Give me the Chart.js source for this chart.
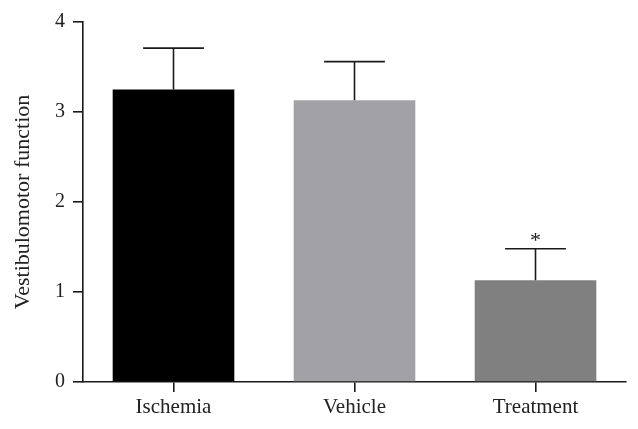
<!DOCTYPE html>
<html><head><meta charset="utf-8">
<script src="https://cdn.jsdelivr.net/npm/chart.js@4.4.1/dist/chart.umd.min.js"></script>
<style>html,body{margin:0;padding:0;background:#fff}#wrap{width:638px;height:429px}</style>
</head><body><div id="wrap"><canvas id="c" width="638" height="429"></canvas></div>
<script>
const categories = ["Ischemia", "Vehicle", "Treatment"];
const means = [3.25, 3.13, 1.13];
const errors = [0.46, 0.43, 0.35];
const significance = ["", "", "*"];
const barColors = ["#000000", "#a2a1a6", "#808080"];
const yTicks = [0, 1, 2, 3, 4];

const errorBarPlugin = {
  id: 'errbars',
  afterDatasetsDraw(chart) {
    const ctx = chart.ctx, meta = chart.getDatasetMeta(0), y = chart.scales.y;
    ctx.save();
    ctx.strokeStyle = '#1a1a1a'; ctx.lineWidth = 1.6;
    meta.data.forEach((bar, i) => {
      const x = bar.x, yTop = y.getPixelForValue(means[i] + errors[i]), yMean = y.getPixelForValue(means[i]);
      const half = bar.width * 0.25;
      ctx.beginPath();
      ctx.moveTo(x, yMean); ctx.lineTo(x, yTop);
      ctx.moveTo(x - half, yTop); ctx.lineTo(x + half, yTop);
      ctx.stroke();
      if (significance[i]) {
        ctx.fillStyle = '#1a1a1a';
        ctx.font = '22px "Liberation Serif"';
        ctx.textAlign = 'center'; ctx.textBaseline = 'bottom';
        ctx.fillText(significance[i], x, yTop + 3);
      }
    });
    ctx.restore();
  }
};

new Chart(document.getElementById('c'), {
  type: 'bar',
  data: { labels: categories, datasets: [{ data: means, backgroundColor: barColors, borderWidth: 0, barPercentage: 0.672, categoryPercentage: 1 }] },
  options: {
    responsive: false, animation: false,
    layout: { padding: { top: 22, right: 12, left: 0, bottom: 0 } },
    plugins: { legend: { display: false }, tooltip: { enabled: false } },
    scales: {
      x: {
        grid: { display: true, drawOnChartArea: false, offset: false, tickLength: 10, color: '#1a1a1a', lineWidth: 1.6 },
        border: { display: true, color: '#1a1a1a', width: 1.6 },
        ticks: { color: '#222', font: { family: '"Liberation Serif"', size: 21 }, padding: 3 },
        afterFit(s) { s.height = 47; }
      },
      y: {
        min: 0, max: 4,
        afterBuildTicks(s) { s.ticks = yTicks.map(v => ({ value: v })); },
        grid: { display: true, drawOnChartArea: false, tickLength: 10, color: '#1a1a1a', lineWidth: 1.6 },
        border: { display: true, color: '#1a1a1a', width: 1.6 },
        ticks: { color: '#222', font: { family: '"Liberation Serif"', size: 20 }, padding: 8 },
        title: { display: true, text: 'Vestibulomotor function', color: '#222', font: { family: '"Liberation Serif"', size: 22 }, padding: { top: 10, bottom: 12 } },
        afterFit(s) { s.width = 83; }
      }
    }
  },
  plugins: [errorBarPlugin]
});
</script></body></html>
